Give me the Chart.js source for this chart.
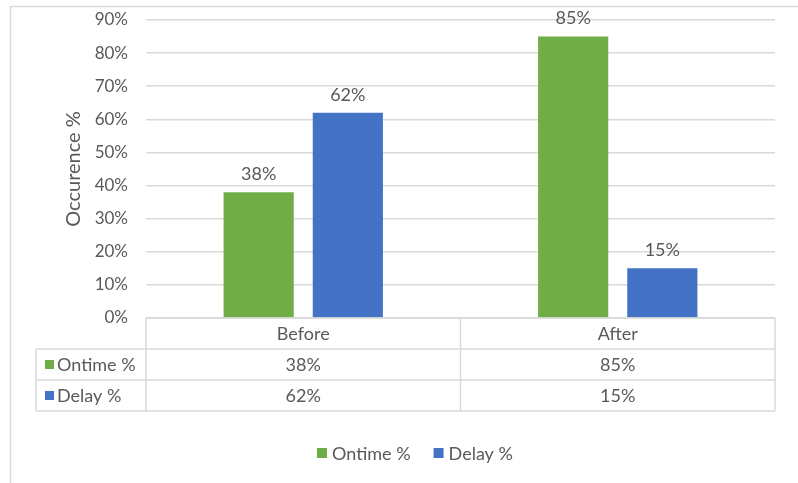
<!DOCTYPE html>
<html>
<head>
<meta charset="utf-8">
<script src="https://cdn.jsdelivr.net/npm/chart.js@4.4.1/dist/chart.umd.min.js"></script>
<style>
  html, body { margin: 0; padding: 0; background: #fff; }
  canvas { display: block; }
</style>
</head>
<body>
<canvas id="chart" width="798" height="483"></canvas>
<script>
const categories = ["Before", "After"];
const seriesNames = ["Ontime %", "Delay %"];
const ontimeValues = [38, 85];
const delayValues = [62, 15];
const yTicks = [0, 10, 20, 30, 40, 50, 60, 70, 80, 90];

const GREEN = "#70AD47";
const BLUE = "#4472C4";
const TEXT = "#595959";
const LINE = "#d9d9d9";
const FONT = "Lato, 'Open Sans', sans-serif";

// draws frame, value labels, data table and legend
const tablePlugin = {
  id: "tablePlugin",
  beforeDraw(chart) {
    const ctx = chart.ctx;
    ctx.save();
    ctx.strokeStyle = LINE;
    ctx.lineWidth = 1.5;
    ctx.beginPath();
    ctx.moveTo(10.5, 483);
    ctx.lineTo(10.5, 6.5);
    ctx.lineTo(798, 6.5);
    ctx.stroke();
    ctx.restore();
  },
  afterDraw(chart) {
    const ctx = chart.ctx;
    const area = chart.chartArea;
    const x = chart.scales.x;
    const colors = chart.data.datasets.map(d => d.backgroundColor);

    ctx.save();
    ctx.font = "18px " + FONT;
    ctx.fillStyle = TEXT;
    ctx.textAlign = "center";
    ctx.textBaseline = "bottom";

    // value labels above bars
    chart.data.datasets.forEach((ds, i) => {
      chart.getDatasetMeta(i).data.forEach((bar, j) => {
        ctx.fillText(ds.data[j] + "%", bar.x, bar.y - 9);
      });
    });

    // data table
    const rowH = 31;
    const top = area.bottom;
    const labelLeft = 36;
    const half = (x.getPixelForValue(1) - x.getPixelForValue(0)) / 2;
    const colEdges = [area.left];
    categories.forEach((c, i) => colEdges.push(x.getPixelForValue(i) + half));

    ctx.strokeStyle = LINE;
    ctx.lineWidth = 1.5;
    ctx.beginPath();
    ctx.moveTo(area.left, top); ctx.lineTo(area.right, top);
    for (let r = 1; r <= seriesNames.length + 1; r++) {
      const y = top + r * rowH;
      ctx.moveTo(labelLeft, y); ctx.lineTo(area.right, y);
    }
    colEdges.forEach(cx => {
      ctx.moveTo(cx, top); ctx.lineTo(cx, top + rowH * (seriesNames.length + 1));
    });
    ctx.moveTo(labelLeft, top + rowH); ctx.lineTo(labelLeft, top + rowH * (seriesNames.length + 1));
    ctx.stroke();

    ctx.textBaseline = "middle";
    categories.forEach((c, i) => {
      const cx = x.getPixelForValue(i);
      ctx.fillText(c, cx, top + rowH / 2 + 1);
      chart.data.datasets.forEach((ds, s) => {
        ctx.fillText(ds.data[i] + "%", cx, top + rowH * (s + 1.5) + 1);
      });
    });

    ctx.textAlign = "left";
    seriesNames.forEach((name, s) => {
      const cy = top + rowH * (s + 1.5);
      ctx.fillStyle = colors[s];
      ctx.fillRect(45, cy - 4.5, 9, 9);
      ctx.fillStyle = TEXT;
      ctx.fillText(name, 57, cy + 1);
    });

    // legend
    const legendY = 453;
    let lx = 317;
    seriesNames.forEach((name, s) => {
      ctx.fillStyle = colors[s];
      ctx.fillRect(lx, legendY - 5, 10, 10);
      ctx.fillStyle = TEXT;
      ctx.fillText(name, lx + 15, legendY + 1);
      lx += 15 + ctx.measureText(name).width + 23;
    });
    ctx.restore();
  }
};

new Chart(document.getElementById("chart"), {
  type: "bar",
  data: {
    labels: categories,
    datasets: [
      { label: seriesNames[0], data: ontimeValues, backgroundColor: GREEN },
      { label: seriesNames[1], data: delayValues, backgroundColor: BLUE }
    ]
  },
  options: {
    responsive: false,
    animation: false,
    categoryPercentage: 0.567,
    barPercentage: 0.787,
    layout: { padding: { left: 0, right: 23, top: 20, bottom: 165 } },
    plugins: {
      legend: { display: false },
      tooltip: { enabled: false }
    },
    scales: {
      x: { display: false },
      y: {
        min: yTicks[0],
        max: yTicks[yTicks.length - 1],
        afterBuildTicks: (scale) => { scale.ticks = yTicks.map(v => ({ value: v })); },
        afterFit: (scale) => {
          scale.width = 146;
          scale.paddingTop = 0;
          scale.paddingBottom = 0;
        },
        border: { display: false },
        grid: { color: LINE, lineWidth: 1.5, drawTicks: false },
        ticks: {
          padding: 18,
          color: TEXT,
          font: { family: FONT, size: 17 },
          callback: v => v + "%"
        },
        title: {
          display: true,
          text: "Occurence %",
          color: TEXT,
          font: { family: FONT, size: 20 },
          padding: { top: 62, bottom: 0 }
        }
      }
    }
  },
  plugins: [tablePlugin]
});
</script>
</body>
</html>
